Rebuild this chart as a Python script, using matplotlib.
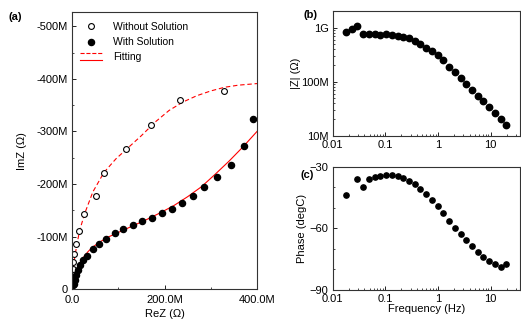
import numpy as np
import matplotlib.pyplot as plt
from matplotlib.ticker import FuncFormatter, MultipleLocator, LogLocator, NullFormatter
from matplotlib.legend_handler import HandlerBase
from matplotlib.lines import Line2D

plt.rcParams['font.family'] = ['Liberation Sans', 'DejaVu Sans']
plt.rcParams['font.size'] = 8

# (a) Nyquist data, ReZ and -ImZ in MOhm
rez_without = [1.5, 1.5, 1.5, 1.5, 2.8, 4.3, 8.6, 15.8, 26.6, 51.2, 69.2, 116.8, 170.8, 233.5, 329.3]
imz_without = [15.2, 22.2, 29.8, 39.4, 51.9, 67.9, 86.9, 111.6, 143.2, 176.6, 221.9, 266.7, 312.4, 359.9, 377.6]

rez_with = [3.2, 4.3, 6.5, 9.7, 13.0, 17.3, 23.8, 32.4, 45.4, 58.4, 73.5, 93.0, 110.3, 131.9,
            151.4, 173.0, 194.6, 216.2, 237.8, 261.0, 286.1, 314.2, 343.8, 371.9, 391.4]
imz_with = [8.2, 11.0, 17.7, 27.2, 36.7, 46.2, 55.7, 63.3, 76.6, 86.1, 95.6, 107.0, 114.6, 122.2,
            129.8, 135.6, 145.1, 152.7, 164.1, 177.4, 193.7, 213.7, 237.1, 272.4, 323.8]

# fitted curves
fit1_x = [0, 1, 3, 6, 10, 16, 27, 45, 69, 95, 120, 150, 180, 210, 240, 270, 300, 330, 360, 400]
fit1_y = [0, 18, 40, 62, 82, 110, 143, 185, 222, 248, 268, 292, 318, 340, 356, 368, 377, 384, 388, 391]
fit2_x = [2, 5, 10, 16, 24, 35, 46, 60, 80, 100, 130, 160, 190, 220, 250, 280, 310, 340, 370, 400]
fit2_y = [6, 18, 34, 47, 60, 72, 81, 90, 100, 108, 120, 132, 145, 159, 176, 195, 219, 244, 271, 300]

# (b), (c) Bode data
freq = [0.0179, 0.0230, 0.0295, 0.0379, 0.0486, 0.0624, 0.0802, 0.103, 0.132, 0.170,
        0.218, 0.280, 0.360, 0.462, 0.594, 0.763, 0.980, 1.26, 1.62, 2.08,
        2.67, 3.43, 4.40, 5.65, 7.26, 9.33, 12.0, 15.4, 19.8]
zmod = [832, 958, 1057, 764, 774, 774, 742, 764, 742, 711,
        667, 634, 570, 501, 426, 370, 314, 250, 187, 149,
        117, 90.7, 71.1, 55.1, 43.2, 33.4, 26.3, 20.4, 16.0]
phase = [-43.8, np.nan, -36.0, -39.7, -36.1, -34.9, -34.4, -34.2, -34.2, -34.4,
         -35.3, -36.8, -38.6, -40.7, -43.1, -46.0, -49.1, -52.7, -56.3, -59.6,
         -62.8, -65.7, -68.6, -71.3, -73.9, -75.7, -77.5, -78.9, -77.5]

M = 1e6


class StackHandler(HandlerBase):
    # dashed line on top, solid line below, like the original legend key
    def create_artists(self, legend, orig_handle, xdescent, ydescent, width, height, fontsize, trans):
        arts = []
        for h, yy in zip(orig_handle, [height * 1.0, height * 0.0]):
            ln = Line2D([-xdescent, width - xdescent], [yy - ydescent] * 2,
                        color=h.get_color(), linestyle=h.get_linestyle(),
                        linewidth=h.get_linewidth(), transform=trans)
            arts.append(ln)
        return arts


def style(ax):
    ax.tick_params(which='both', direction='in', top=False, right=False, labelsize=8, pad=3)
    ax.tick_params(which='major', length=3, width=0.6)
    ax.tick_params(which='minor', length=1.6, width=0.5)
    for s in ax.spines.values():
        s.set_linewidth(0.8)
        s.set_color('#333333')


fig = plt.figure(figsize=(5.21, 3.23), dpi=100)
ax_a = fig.add_axes([0.1382, 0.1043, 0.3551, 0.8585])
ax_b = fig.add_axes([0.6386, 0.5799, 0.3603, 0.3845])
ax_c = fig.add_axes([0.6386, 0.1022, 0.3603, 0.3817])

# ---- (a)
fl1, = ax_a.plot(np.array(fit1_x) * M, -np.array(fit1_y) * M, '--', color='red', lw=0.8, dashes=(4, 2.5))
fl2, = ax_a.plot(np.array(fit2_x) * M, -np.array(fit2_y) * M, '-', color='red', lw=0.8)
p1, = ax_a.plot(np.array(rez_without) * M, -np.array(imz_without) * M, 'o', mfc='white', mec='black',
                mew=0.8, ms=4.2, ls='none')
p2, = ax_a.plot(np.array(rez_with) * M, -np.array(imz_with) * M, 'o', color='black', ms=4.4, ls='none')

ax_a.set_xlim(0, 400 * M)
ax_a.set_ylim(0, -527 * M)
ax_a.set_xticks([0, 200 * M, 400 * M])
ax_a.xaxis.set_minor_locator(MultipleLocator(100 * M))
ax_a.set_yticks([0, -100 * M, -200 * M, -300 * M, -400 * M, -500 * M])
ax_a.yaxis.set_minor_locator(MultipleLocator(50 * M))
ax_a.xaxis.set_major_formatter(FuncFormatter(lambda v, p: '0.0' if v == 0 else f'{v / M:.1f}M'))
ax_a.yaxis.set_major_formatter(FuncFormatter(lambda v, p: '0' if v == 0 else f'{v / M:.0f}M'))
ax_a.set_xlabel('ReZ (Ω)', fontsize=8, labelpad=3)
ax_a.set_ylabel('ImZ (Ω)', fontsize=8, labelpad=7)
style(ax_a)
ax_a.tick_params(axis='x', pad=4.2)
ax_a.legend([p1, p2, (fl1, fl2)], ['Without Solution', 'With Solution', 'Fitting'],
            handler_map={tuple: StackHandler()}, loc='upper left', bbox_to_anchor=(-0.005, 0.998),
            frameon=False, numpoints=1, handlelength=2.1, handletextpad=1.0,
            labelspacing=0.5, fontsize=7.5)

# ---- (b)
ax_b.plot(freq, np.array(zmod) * M, 'o', color='black', ms=4.6, ls='none')
ax_b.set_xscale('log')
ax_b.set_yscale('log')
ax_b.set_xlim(0.01, 36.6)
ax_b.set_ylim(1e7, 2e9)
ax_b.set_yticks([1e7, 1e8, 1e9])
ax_b.set_yticklabels(['10M', '100M', '1G'])
ax_b.yaxis.set_minor_locator(LogLocator(subs=np.arange(2, 10)))
ax_b.yaxis.set_minor_formatter(NullFormatter())
ax_b.set_ylabel('|Z| (Ω)', fontsize=8, labelpad=0)

# ---- (c)
ax_c.plot(freq, phase, 'o', color='black', ms=3.8, ls='none')
ax_c.set_xscale('log')
ax_c.set_xlim(0.01, 36.6)
ax_c.set_ylim(-90, -30)
ax_c.set_yticks([-90, -60, -30])
ax_c.yaxis.set_minor_locator(MultipleLocator(10))
ax_c.set_ylabel('Phase (degC)', fontsize=8, labelpad=2)
ax_c.set_xlabel('Frequency (Hz)', fontsize=8, labelpad=0)

for ax in (ax_b, ax_c):
    ax.set_xticks([0.01, 0.1, 1, 10])
    ax.set_xticklabels(['0.01', '0.1', '1', '10'])
    ax.xaxis.set_minor_locator(LogLocator(subs=np.arange(2, 10)))
    ax.xaxis.set_minor_formatter(NullFormatter())
    style(ax)

fig.text(15 / 521, 1 - 17 / 323, '(a)', fontsize=8, fontweight='bold', ha='center', va='center')
fig.text(310 / 521, 1 - 15 / 323, '(b)', fontsize=8, fontweight='bold', ha='center', va='center')
fig.text(307 / 521, 1 - 175 / 323, '(c)', fontsize=8, fontweight='bold', ha='center', va='center')

fig.savefig('out.png', dpi=100)
